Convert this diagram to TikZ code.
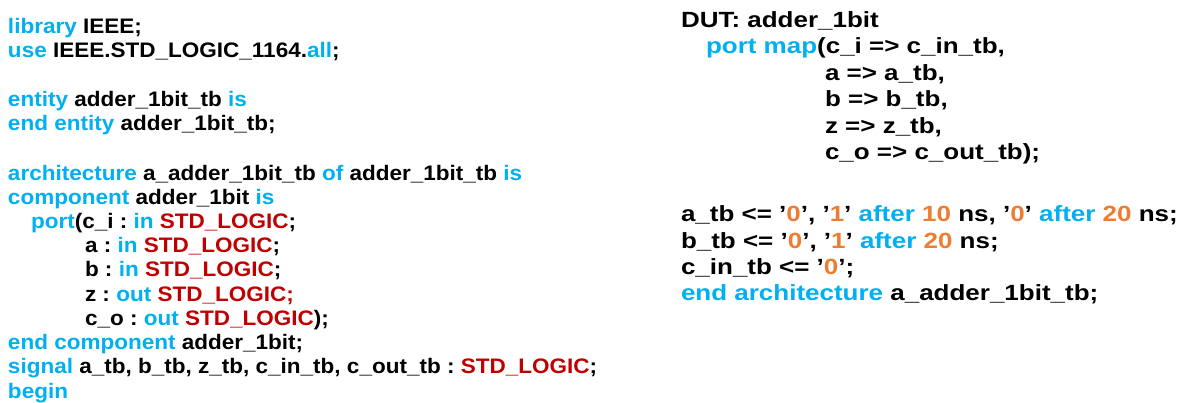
\documentclass[tikz,border=0pt]{standalone}
\usepackage{fontspec}
\setmainfont{Liberation Sans}
\definecolor{kwc}{RGB}{0,176,240}
\definecolor{tyc}{RGB}{192,0,0}
\definecolor{ltc}{RGB}{237,125,49}
\newcommand{\kwd}[1]{\textcolor{kwc}{#1}}
\newcommand{\typ}[1]{\textcolor{tyc}{#1}}
\newcommand{\lit}[1]{\textcolor{ltc}{#1}}
\frenchspacing
\begin{document}
\begin{tikzpicture}[x=1pt,y=1pt,
  lcode/.style={anchor=base west, inner sep=0pt, outer sep=0pt, xscale=1.072, transform shape,
    font=\frenchspacing\bfseries\fontsize{21pt}{21pt}\selectfont},
  rcode/.style={anchor=base west, inner sep=0pt, outer sep=0pt, xscale=1.181, transform shape,
    font=\frenchspacing\bfseries\fontsize{22pt}{22pt}\selectfont}]
\fill[white] (0,0) rectangle (1190,-402);
\useasboundingbox (0,0) rectangle (1190,-402);
% left column
\node[lcode] (l1) at (8,-33.5) {\kwd{library} IEEE;};
\node[lcode] (l2) at (8,-57.8) {\kwd{use} IEEE.STD\_LOGIC\_1164.\kwd{all};};
\node[lcode] (l3) at (8,-106.5) {\kwd{entity} adder\_1bit\_tb \kwd{is}};
\node[lcode] (l4) at (8,-130.8) {\kwd{end entity} adder\_1bit\_tb;};
\node[lcode] (l5) at (8,-180) {\kwd{architecture} a\_adder\_1bit\_tb \kwd{of} adder\_1bit\_tb \kwd{is}};
\node[lcode] (l6) at (8,-204.2) {\kwd{component} adder\_1bit \kwd{is}};
\node[lcode] (l7) at (31,-228.4) {\kwd{port}(c\_i : \kwd{in} \typ{STD\_LOGIC};};
\node[lcode] (l8) at (85,-252.6) {a : \kwd{in} \typ{STD\_LOGIC};};
\node[lcode] (l9) at (85,-276.8) {b : \kwd{in} \typ{STD\_LOGIC};};
\node[lcode] (l10) at (85,-301) {z : \kwd{out} \typ{STD\_LOGIC;}};
\node[lcode] (l11) at (85,-325.2) {c\_o : \kwd{out} \typ{STD\_LOGIC});};
\node[lcode] (l12) at (8,-349.5) {\kwd{end component} adder\_1bit;};
\node[lcode] (l13) at (8,-373.8) {\kwd{signal} a\_tb, b\_tb, z\_tb, c\_in\_tb, c\_out\_tb : \typ{STD\_LOGIC};};
\node[lcode] (l14) at (8,-398) {\kwd{begin}};
% right column
\node[rcode] (r1) at (681,-27) {DUT: adder\_1bit};
\node[rcode] (r2) at (706,-53.5) {\kwd{port map}(c\_i => c\_in\_tb,};
\node[rcode] (r3) at (825,-80) {a => a\_tb,};
\node[rcode] (r4) at (825,-106.5) {b => b\_tb,};
\node[rcode] (r5) at (825,-133) {z => z\_tb,};
\node[rcode] (r6) at (825,-159.5) {c\_o => c\_out\_tb);};
\node[rcode] (r7) at (681,-221.7) {a\_tb <= ’\lit{0}’, ’\lit{1}’ \kwd{after} \lit{10} ns, ’\lit{0}’ \kwd{after} \lit{20} ns;};
\node[rcode] (r8) at (681,-248) {b\_tb <= ’\lit{0}’, ’\lit{1}’ \kwd{after} \lit{20} ns;};
\node[rcode] (r9) at (681,-274) {c\_in\_tb <= ’\lit{0}’;};
\node[rcode] (r10) at (681,-300) {\kwd{end architecture} a\_adder\_1bit\_tb;};
\end{tikzpicture}
\end{document}
